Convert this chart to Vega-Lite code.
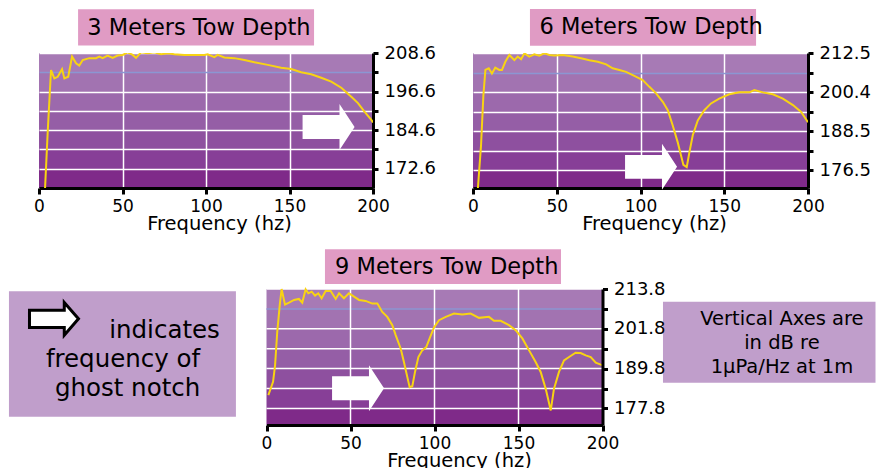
{
  "$schema": "https://vega.github.io/schema/vega-lite/v6.json",
  "padding": {"left": 8, "top": 9, "right": 0, "bottom": 0},
  "columns": 2,
  "align": "none",
  "bounds": "flush",
  "spacing": {"row": 101, "column": 100},
  "datasets": {
    "d3": [
      {"f": 3.4, "db": 164}, {"f": 5.3, "db": 185}, {"f": 7.2, "db": 203.3}, {"f": 9.2, "db": 200.7}, {"f": 11.2, "db": 201.2}, {"f": 13.8, "db": 203.6}, {"f": 15.2, "db": 200.7}, {"f": 17.5, "db": 201.2}, {"f": 19.8, "db": 207.5}, {"f": 22.2, "db": 205.4}, {"f": 24.1, "db": 204.7}, {"f": 26.2, "db": 206.4}, {"f": 30.1, "db": 207}, {"f": 34.1, "db": 207}, {"f": 36.1, "db": 207.5}, {"f": 38.1, "db": 207}, {"f": 41.1, "db": 207.8}, {"f": 44.1, "db": 207.1}, {"f": 47.1, "db": 207.8}, {"f": 50.1, "db": 208}, {"f": 53.1, "db": 208.8}, {"f": 56.1, "db": 208}, {"f": 58.1, "db": 207.1}, {"f": 61.1, "db": 208.8}, {"f": 65.1, "db": 208.5}, {"f": 69.1, "db": 208.8}, {"f": 73.1, "db": 208.2}, {"f": 77.1, "db": 208.5}, {"f": 81, "db": 208.2}, {"f": 87, "db": 208}, {"f": 93, "db": 208}, {"f": 99, "db": 208}, {"f": 101, "db": 208.2}, {"f": 105, "db": 207.3}, {"f": 107, "db": 208}, {"f": 111, "db": 207.2}, {"f": 117, "db": 207}, {"f": 123, "db": 206.4}, {"f": 129, "db": 205.7}, {"f": 137, "db": 204.9}, {"f": 145, "db": 204}, {"f": 151, "db": 203.6}, {"f": 157, "db": 202.6}, {"f": 163, "db": 202}, {"f": 169, "db": 200.9}, {"f": 175, "db": 199.7}, {"f": 181, "db": 197.8}, {"f": 187, "db": 195}, {"f": 191, "db": 193}, {"f": 195, "db": 190.3}, {"f": 199, "db": 187.8}, {"f": 200, "db": 187}
    ],
    "d6": [
      {"f": 2.5, "db": 168}, {"f": 4.8, "db": 184.1}, {"f": 6.2, "db": 199.5}, {"f": 7.4, "db": 207.3}, {"f": 9.4, "db": 207.8}, {"f": 11.3, "db": 206.2}, {"f": 13.3, "db": 208}, {"f": 15.7, "db": 207.3}, {"f": 17.3, "db": 207.3}, {"f": 19.3, "db": 209.8}, {"f": 21.7, "db": 211.9}, {"f": 24.7, "db": 210.3}, {"f": 26.7, "db": 211.4}, {"f": 28.7, "db": 210.6}, {"f": 30.7, "db": 212.4}, {"f": 33.6, "db": 211.4}, {"f": 36.6, "db": 212.1}, {"f": 39.6, "db": 211.7}, {"f": 42.6, "db": 212.4}, {"f": 45.6, "db": 211.9}, {"f": 48.6, "db": 211.7}, {"f": 53.6, "db": 211.9}, {"f": 59.5, "db": 211.4}, {"f": 64.5, "db": 210.9}, {"f": 69.5, "db": 210.3}, {"f": 74.5, "db": 209.8}, {"f": 79.5, "db": 209}, {"f": 83.4, "db": 207.8}, {"f": 87.4, "db": 207.3}, {"f": 91.4, "db": 206.7}, {"f": 95.4, "db": 205.7}, {"f": 99.3, "db": 204.7}, {"f": 101.3, "db": 204.2}, {"f": 105.3, "db": 202.1}, {"f": 109.3, "db": 200.1}, {"f": 113.3, "db": 197.5}, {"f": 116.3, "db": 194.9}, {"f": 119.2, "db": 190.3}, {"f": 122.2, "db": 185.1}, {"f": 124.2, "db": 181}, {"f": 125.6, "db": 178.1}, {"f": 127.6, "db": 177.4}, {"f": 129.2, "db": 182}, {"f": 131.2, "db": 187.2}, {"f": 134.2, "db": 191.8}, {"f": 138.1, "db": 194.9}, {"f": 142.1, "db": 197}, {"f": 147, "db": 198.5}, {"f": 153, "db": 199.8}, {"f": 159, "db": 200.4}, {"f": 165, "db": 200.4}, {"f": 168, "db": 201.1}, {"f": 173, "db": 200.4}, {"f": 179, "db": 199.8}, {"f": 185, "db": 198.5}, {"f": 191, "db": 196.5}, {"f": 195.9, "db": 194.4}, {"f": 200, "db": 191.2}
    ],
    "d9": [
      {"f": 1.1, "db": 181.8}, {"f": 3.9, "db": 185.8}, {"f": 5.1, "db": 190.8}, {"f": 6.4, "db": 200.9}, {"f": 7.9, "db": 209}, {"f": 9, "db": 213.8}, {"f": 11, "db": 209.1}, {"f": 13.4, "db": 209.7}, {"f": 16.4, "db": 210.5}, {"f": 19.3, "db": 210.8}, {"f": 21.3, "db": 209.7}, {"f": 23.3, "db": 213.7}, {"f": 24.9, "db": 212.5}, {"f": 26.9, "db": 213}, {"f": 28.9, "db": 211.8}, {"f": 30.8, "db": 212.5}, {"f": 32.8, "db": 211}, {"f": 35.2, "db": 213.2}, {"f": 38.2, "db": 213.2}, {"f": 41.2, "db": 210.8}, {"f": 43.2, "db": 212.5}, {"f": 46.1, "db": 211}, {"f": 49.1, "db": 212.5}, {"f": 52.1, "db": 211.5}, {"f": 55.1, "db": 210.5}, {"f": 59, "db": 210.2}, {"f": 63, "db": 209.4}, {"f": 66, "db": 209.4}, {"f": 68.9, "db": 206.9}, {"f": 71.9, "db": 205.4}, {"f": 74.9, "db": 202.9}, {"f": 76.9, "db": 199.9}, {"f": 79.9, "db": 195.8}, {"f": 81.8, "db": 191.8}, {"f": 83.8, "db": 187.3}, {"f": 85.2, "db": 184.2}, {"f": 86.8, "db": 184.5}, {"f": 88.4, "db": 188.8}, {"f": 90.4, "db": 193.3}, {"f": 92.7, "db": 195.3}, {"f": 95.1, "db": 196.3}, {"f": 97.1, "db": 198.9}, {"f": 99.7, "db": 202.2}, {"f": 102.7, "db": 204.4}, {"f": 106.7, "db": 205.4}, {"f": 111.6, "db": 206.4}, {"f": 116.5, "db": 206.1}, {"f": 121.5, "db": 206.4}, {"f": 126.5, "db": 205.1}, {"f": 132.4, "db": 205.4}, {"f": 135.4, "db": 204.2}, {"f": 139.4, "db": 204.2}, {"f": 144.3, "db": 202.9}, {"f": 148.3, "db": 201.4}, {"f": 152.3, "db": 198.9}, {"f": 156.3, "db": 195.3}, {"f": 160.2, "db": 191.8}, {"f": 163.2, "db": 188.8}, {"f": 166.2, "db": 183.7}, {"f": 169.2, "db": 177.2}, {"f": 171.1, "db": 183.7}, {"f": 174.1, "db": 188.8}, {"f": 177.1, "db": 192.3}, {"f": 180.1, "db": 193.3}, {"f": 184, "db": 194.6}, {"f": 187, "db": 194.5}, {"f": 190, "db": 193.8}, {"f": 193, "db": 193.3}, {"f": 196, "db": 191.6}, {"f": 198.9, "db": 191}, {"f": 200, "db": 190.9}
    ]
  },
  "concat": [
    {
      "width": 334, "height": 135,
      "view": {"stroke": null, "fill": {"gradient": "linear", "x1": 0, "y1": 0, "x2": 0, "y2": 1, "stops": [
        {"offset": 0, "color": "#a77ab5"}, {"offset": 0.1429, "color": "#a77ab5"},
        {"offset": 0.1429, "color": "#a273b1"}, {"offset": 0.2857, "color": "#a273b1"},
        {"offset": 0.2857, "color": "#9c69ac"}, {"offset": 0.4286, "color": "#9c69ac"},
        {"offset": 0.4286, "color": "#955ea6"}, {"offset": 0.5714, "color": "#955ea6"},
        {"offset": 0.5714, "color": "#8e509f"}, {"offset": 0.7143, "color": "#8e509f"},
        {"offset": 0.7143, "color": "#873f97"}, {"offset": 0.8571, "color": "#873f97"},
        {"offset": 0.8571, "color": "#7f2a89"}, {"offset": 1, "color": "#7f2a89"}]}},
      "layer": [
        {
          "data": {"name": "d3"},
          "mark": {"type": "line", "clip": true, "color": "#f8d313", "strokeWidth": 2},
          "encoding": {
            "x": {"field": "f", "type": "quantitative", "scale": {"domain": [0, 200], "nice": false},
              "axis": {"values": [0, 50, 100, 150, 200], "tickCount": 20, "title": "Frequency (hz)", "titleX": 180, "gridOpacity": {"condition": {"test": "datum.value == 0 || datum.value == 200", "value": 0}, "value": 1}}},
            "y": {"field": "db", "type": "quantitative", "scale": {"domain": [166.6, 208.6], "nice": false, "zero": false},
              "axis": {"orient": "right", "title": null, "values": [208.6, 202.6, 196.6, 190.6, 184.6, 178.6, 172.6], "tickCount": 20,
                "labelExpr": "(datum.value == 208.6 || datum.value == 196.6 || datum.value == 184.6 || datum.value == 172.6) ? format(datum.value, '.1f') : ''",
                "gridColor": {"condition": {"test": "datum.value == 202.6", "value": "#8b96d2"}, "value": "#ffffff"}}}
          }
        },
        {
          "data": {"values": [{}]},
          "mark": {"type": "point", "shape": "M-1,-0.46L0.42,-0.46L0.42,-0.885L1,0L0.42,0.885L0.42,0.46L-1,0.46Z", "size": 2704, "filled": true, "fill": "#ffffff", "opacity": 1, "strokeWidth": 0},
          "encoding": {"x": {"datum": 173.4}, "y": {"datum": 185.6}}
        },
        {
          "data": {"values": [{}]},
          "mark": {"type": "rect", "fill": "#e09bc4"},
          "encoding": {"x": {"datum": 23.4}, "x2": {"datum": 164.7}, "y": {"datum": 210.9}, "y2": {"datum": 222.2}}
        },
        {
          "data": {"values": [{}]},
          "mark": {"type": "text", "text": "3 Meters Tow Depth", "fontSize": 22.5, "align": "center", "baseline": "middle", "color": "#000000"},
          "encoding": {"x": {"datum": 95.8}, "y": {"datum": 216.5}}
        }
      ]
    },
    {
      "width": 335, "height": 135,
      "view": {"stroke": null, "fill": {"gradient": "linear", "x1": 0, "y1": 0, "x2": 0, "y2": 1, "stops": [
        {"offset": 0, "color": "#a77ab5"}, {"offset": 0.1458, "color": "#a77ab5"},
        {"offset": 0.1458, "color": "#a273b1"}, {"offset": 0.2916, "color": "#a273b1"},
        {"offset": 0.2916, "color": "#9c69ac"}, {"offset": 0.4349, "color": "#9c69ac"},
        {"offset": 0.4349, "color": "#955ea6"}, {"offset": 0.5783, "color": "#955ea6"},
        {"offset": 0.5783, "color": "#8e509f"}, {"offset": 0.7229, "color": "#8e509f"},
        {"offset": 0.7229, "color": "#873f97"}, {"offset": 0.8675, "color": "#873f97"},
        {"offset": 0.8675, "color": "#7f2a89"}, {"offset": 1, "color": "#7f2a89"}]}},
      "layer": [
        {
          "data": {"name": "d6"},
          "mark": {"type": "line", "clip": true, "color": "#f8d313", "strokeWidth": 2},
          "encoding": {
            "x": {"field": "f", "type": "quantitative", "scale": {"domain": [0, 200], "nice": false},
              "axis": {"values": [0, 50, 100, 150, 200], "tickCount": 20, "title": "Frequency (hz)", "titleX": 181, "gridOpacity": {"condition": {"test": "datum.value == 0 || datum.value == 200", "value": 0}, "value": 1}}},
            "y": {"field": "db", "type": "quantitative", "scale": {"domain": [171, 212.5], "nice": false, "zero": false},
              "axis": {"orient": "right", "title": null, "values": [212.5, 206.45, 200.4, 194.45, 188.5, 182.5, 176.5], "tickCount": 20,
                "labelExpr": "(datum.value == 212.5 || datum.value == 200.4 || datum.value == 188.5 || datum.value == 176.5) ? format(datum.value, '.1f') : ''",
                "gridColor": {"condition": {"test": "datum.value == 206.45", "value": "#8b96d2"}, "value": "#ffffff"}}}
          }
        },
        {
          "data": {"values": [{}]},
          "mark": {"type": "point", "shape": "M-1,-0.46L0.42,-0.46L0.42,-0.885L1,0L0.42,0.885L0.42,0.46L-1,0.46Z", "size": 2704, "filled": true, "fill": "#ffffff", "opacity": 1, "strokeWidth": 0},
          "encoding": {"x": {"datum": 106.3}, "y": {"datum": 177.5}}
        },
        {
          "data": {"values": [{}]},
          "mark": {"type": "rect", "fill": "#e09bc4"},
          "encoding": {"x": {"datum": 34.0}, "x2": {"datum": 169.0}, "y": {"datum": 214.75}, "y2": {"datum": 226.0}}
        },
        {
          "data": {"values": [{}]},
          "mark": {"type": "text", "text": "6 Meters Tow Depth", "fontSize": 22.5, "align": "center", "baseline": "middle", "color": "#000000"},
          "encoding": {"x": {"datum": 106.3}, "y": {"datum": 220.4}}
        }
      ]
    },
    {
      "width": 10, "height": 10,
      "view": {"stroke": null},
      "data": {"values": [{}]},
      "mark": {"type": "text"},
      "encoding": {"text": {"value": ""}}
    },
    {
      "width": 129.5, "height": 136,
      "view": {"stroke": null},
      "layer": [
        {
          "data": {"values": [{}]},
          "mark": {"type": "rect", "color": {"gradient": "linear", "x1": 0, "y1": 0, "x2": 0, "y2": 1, "stops": [
            {"offset": 0, "color": "#a77ab5"}, {"offset": 0.1463, "color": "#a77ab5"},
            {"offset": 0.1463, "color": "#a273b1"}, {"offset": 0.2927, "color": "#a273b1"},
            {"offset": 0.2927, "color": "#9c69ac"}, {"offset": 0.4390, "color": "#9c69ac"},
            {"offset": 0.4390, "color": "#955ea6"}, {"offset": 0.5854, "color": "#955ea6"},
            {"offset": 0.5854, "color": "#8e509f"}, {"offset": 0.7317, "color": "#8e509f"},
            {"offset": 0.7317, "color": "#873f97"}, {"offset": 0.8780, "color": "#873f97"},
            {"offset": 0.8780, "color": "#7f2a89"}, {"offset": 1, "color": "#7f2a89"}]}},
          "encoding": {"x": {"datum": 0}, "x2": {"datum": 200}, "y": {"datum": 213.8}, "y2": {"datum": 172.8}}
        },
        {
          "data": {"values": [{"g": 213.8}, {"g": 201.8}, {"g": 195.8}, {"g": 189.8}, {"g": 183.8}, {"g": 177.8}]},
          "mark": {"type": "rule", "color": "#ffffff", "strokeWidth": 1.5},
          "encoding": {"x": {"datum": 0}, "x2": {"datum": 200}, "y": {"field": "g", "type": "quantitative"}}
        },
        {
          "data": {"values": [{}]},
          "mark": {"type": "rule", "color": "#8b96d2", "strokeWidth": 1.5},
          "encoding": {"x": {"datum": 0}, "x2": {"datum": 200}, "y": {"datum": 207.8}}
        },
        {
          "data": {"values": [{"v": 50}, {"v": 100}, {"v": 150}]},
          "mark": {"type": "rule", "color": "#ffffff", "strokeWidth": 1.5},
          "encoding": {"x": {"field": "v", "type": "quantitative"}, "y": {"datum": 172.8}, "y2": {"datum": 213.8}}
        },
        {
          "data": {"name": "d9"},
          "mark": {"type": "line", "clip": false, "color": "#f8d313", "strokeWidth": 2},
          "encoding": {
            "x": {"field": "f", "type": "quantitative", "scale": {"domain": [0, 200], "range": [-206.5, 129.5], "nice": false},
              "axis": {"zindex": 1, "grid": false, "values": [0, 50, 100, 150, 200], "tickCount": 20, "title": "Frequency (hz)", "titleX": -14}},
            "y": {"field": "db", "type": "quantitative", "scale": {"domain": [172.8, 213.8], "nice": false, "zero": false},
              "axis": {"zindex": 1, "grid": false, "orient": "right", "title": null, "values": [213.8, 207.8, 201.8, 195.8, 189.8, 183.8, 177.8], "tickCount": 20,
                "labelExpr": "(datum.value == 213.8 || datum.value == 201.8 || datum.value == 189.8 || datum.value == 177.8) ? format(datum.value, '.1f') : ''"}}
          }
        },
        {
          "data": {"values": [{}]},
          "mark": {"type": "point", "shape": "M-1,-0.46L0.42,-0.46L0.42,-0.885L1,0L0.42,0.885L0.42,0.46L-1,0.46Z", "size": 2704, "filled": true, "fill": "#ffffff", "opacity": 1, "strokeWidth": 0},
          "encoding": {"x": {"datum": 54.5}, "y": {"datum": 183.9}}
        },
        {
          "data": {"values": [{}]},
          "mark": {"type": "rect", "fill": "#e09bc4"},
          "encoding": {"x": {"datum": 34.8}, "x2": {"datum": 175.3}, "y": {"datum": 215.3}, "y2": {"datum": 225.8}}
        },
        {
          "data": {"values": [{}]},
          "mark": {"type": "text", "text": "9 Meters Tow Depth", "fontSize": 22.5, "align": "center", "baseline": "middle", "color": "#000000"},
          "encoding": {"x": {"datum": 107.3}, "y": {"datum": 220.5}}
        },
        {
          "data": {"values": [{}]},
          "mark": {"type": "rect", "fill": "#c09ecb"},
          "encoding": {"x": {"datum": -153.3}, "x2": {"datum": -18.2}, "y": {"datum": 175.3}, "y2": {"datum": 213.1}}
        },
        {
          "data": {"values": [{}]},
          "mark": {"type": "point", "shape": "M-1,-0.35L0.42,-0.35L0.42,-0.67L1,0L0.42,0.67L0.42,0.35L-1,0.35Z", "size": 2401, "filled": true, "fill": "#ffffff", "opacity": 1, "stroke": "#000000", "strokeWidth": 3},
          "encoding": {"x": {"datum": -126.5}, "y": {"datum": 204.8}}
        },
        {
          "data": {"values": [{}]},
          "mark": {"type": "text", "text": "indicates", "fontSize": 24.5, "align": "center", "baseline": "alphabetic", "color": "#000000"},
          "encoding": {"x": {"datum": -60.7}, "y": {"datum": 199.0}}
        },
        {
          "data": {"values": [{}]},
          "mark": {"type": "text", "text": "frequency of", "fontSize": 24.5, "align": "center", "baseline": "alphabetic", "color": "#000000"},
          "encoding": {"x": {"datum": -85.4}, "y": {"datum": 190.2}}
        },
        {
          "data": {"values": [{}]},
          "mark": {"type": "text", "text": "ghost notch", "fontSize": 24.5, "align": "center", "baseline": "alphabetic", "color": "#000000"},
          "encoding": {"x": {"datum": -82.7}, "y": {"datum": 181.4}}
        },
        {
          "data": {"values": [{}]},
          "mark": {"type": "rect", "fill": "#c09ecb"},
          "encoding": {"x": {"datum": 236}, "x2": {"datum": 362.5}, "y": {"datum": 185.5}, "y2": {"datum": 209.96}}
        },
        {
          "data": {"values": [{}]},
          "mark": {"type": "text", "text": "Vertical Axes are", "fontSize": 19.5, "align": "center", "baseline": "alphabetic", "color": "#000000"},
          "encoding": {"x": {"datum": 306.8}, "y": {"datum": 203.0}}
        },
        {
          "data": {"values": [{}]},
          "mark": {"type": "text", "text": "in dB re", "fontSize": 19.5, "align": "center", "baseline": "alphabetic", "color": "#000000"},
          "encoding": {"x": {"datum": 306.8}, "y": {"datum": 195.65}}
        },
        {
          "data": {"values": [{}]},
          "mark": {"type": "text", "text": "1μPa/Hz at 1m", "fontSize": 19.5, "align": "center", "baseline": "alphabetic", "color": "#000000"},
          "encoding": {"x": {"datum": 306.8}, "y": {"datum": 188.4}}
        }
      ]
    }
  ],
  "config": {
    "font": "DejaVu Sans",
    "view": {"stroke": null},
    "axis": {"domainColor": "#000000", "domainWidth": 3, "tickColor": "#000000", "tickWidth": 3, "labelColor": "#000000", "labelOverlap": false, "titleColor": "#000000", "titleFontSize": 19.5, "titleFontWeight": "normal", "gridColor": "#ffffff", "gridWidth": 1.5, "gridOpacity": 1, "grid": true},
    "axisX": {"tickSize": 6, "labelPadding": 4, "labelFlush": false, "titlePadding": 0, "labelFontSize": 17},
    "axisY": {"tickSize": 5, "labelPadding": 6, "labelFontSize": 18}
  }
}
